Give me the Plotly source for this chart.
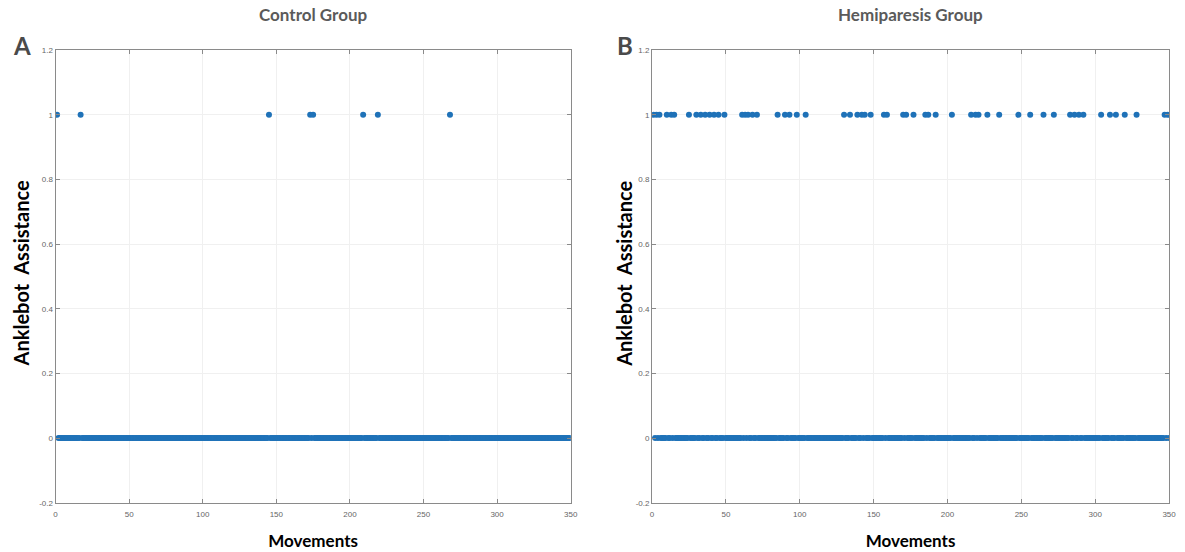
import plotly.graph_objects as go

# ---- data ----
n_movements = 350
control_ones = [1, 17, 145, 173, 175, 209, 219, 268]
hemi_ones = [1, 3, 5, 10, 13, 15, 25, 30, 33, 36, 39, 42, 45, 49, 61, 63, 65, 68, 71,
             85, 90, 93, 98, 104, 130, 134, 139, 142, 144, 148, 157, 159, 170, 172,
             177, 185, 187, 192, 203, 216, 219, 221, 227, 235, 248, 256, 265, 272,
             283, 286, 289, 292, 304, 310, 314, 320, 328, 347, 349]
movements = list(range(1, n_movements + 1))
control_vals = [1 if m in control_ones else 0 for m in movements]
hemi_vals = [1 if m in hemi_ones else 0 for m in movements]

x_ticks = [0, 50, 100, 150, 200, 250, 300, 350]
y_ticks = [-0.2, 0, 0.2, 0.4, 0.6, 0.8, 1, 1.2]
y_ticktext = ["-0.2", "0", "0.2", "0.4", "0.6", "0.8", "1", "1.2"]

panel_titles = ["Control Group", "Hemiparesis Group"]
panel_letters = ["A", "B"]
x_title = "Movements"
y_title = "Anklebot  Assistance"

# ---- figure ----
blue = "#1f72b8"
fig = go.Figure()
fig.add_trace(go.Scatter(x=movements, y=control_vals, mode="markers",
                         marker=dict(color=blue, size=6), xaxis="x", yaxis="y",
                         showlegend=False))
fig.add_trace(go.Scatter(x=movements, y=hemi_vals, mode="markers",
                         marker=dict(color=blue, size=6), xaxis="x2", yaxis="y2",
                         showlegend=False))

W, H = 1185, 552
left_dom = [54 / W, 573 / W]
right_dom = [655 / W, 1176 / W]
y_dom = [1 - 507 / H, 1 - 47 / H]

axis_common = dict(showline=True, linecolor="#8a8a8a", linewidth=1, mirror="ticks",
                   ticks="inside", ticklen=4, tickcolor="#8a8a8a",
                   showgrid=True, gridcolor="#f0f0f0", zeroline=False,
                   tickfont=dict(family="Arial", size=8, color="#666666"))

tfont = dict(family="Lato", size=17, color="black")
fig.update_layout(
    width=W, height=H, margin=dict(l=0, r=0, t=0, b=0),
    paper_bgcolor="white", plot_bgcolor="white",
    xaxis=dict(domain=left_dom, range=[0, 350], tickvals=x_ticks, anchor="y",
               ticklabelstandoff=4,
               title=dict(text=f"<b>{x_title}</b>", font=tfont, standoff=16), **axis_common),
    yaxis=dict(domain=y_dom, range=[-0.2, 1.2], tickvals=y_ticks, ticktext=y_ticktext,
               anchor="x", **axis_common),
    xaxis2=dict(domain=right_dom, range=[0, 350], tickvals=x_ticks, anchor="y2",
                ticklabelstandoff=4,
                title=dict(text=f"<b>{x_title}</b>", font=tfont, standoff=16), **axis_common),
    yaxis2=dict(domain=y_dom, range=[-0.2, 1.2], tickvals=y_ticks, ticktext=y_ticktext,
                anchor="x2", **axis_common),
)

centers = [(left_dom[0] + left_dom[1]) / 2, (right_dom[0] + right_dom[1]) / 2]
for c, t in zip(centers, panel_titles):
    fig.add_annotation(x=c, y=1 - 11 / H, xref="paper", yref="paper", text=f"<b>{t}</b>",
                       showarrow=False, xanchor="center", yanchor="middle",
                       font=dict(family="Lato", size=17, color="#5a5a5a"))
for xp, t in zip([20 / W, 628 / W], panel_letters):
    fig.add_annotation(x=xp, y=1 - 42 / H, xref="paper", yref="paper", text=f"<b>{t}</b>",
                       showarrow=False, xanchor="center", yanchor="middle",
                       font=dict(family="Lato", size=24, color="#4a4a4a"))
for xp in [19 / W, 626 / W]:
    fig.add_annotation(x=xp, y=1 - 274 / H, xref="paper", yref="paper", text=f"<b>{y_title}</b>",
                       showarrow=False, textangle=-90, xanchor="center", yanchor="middle",
                       font=dict(family="Lato", size=20, color="black"))

fig.write_html("out.html", config={"displayModeBar": False},
               post_script="document.body.style.margin='0';document.body.style.overflow='hidden';")
